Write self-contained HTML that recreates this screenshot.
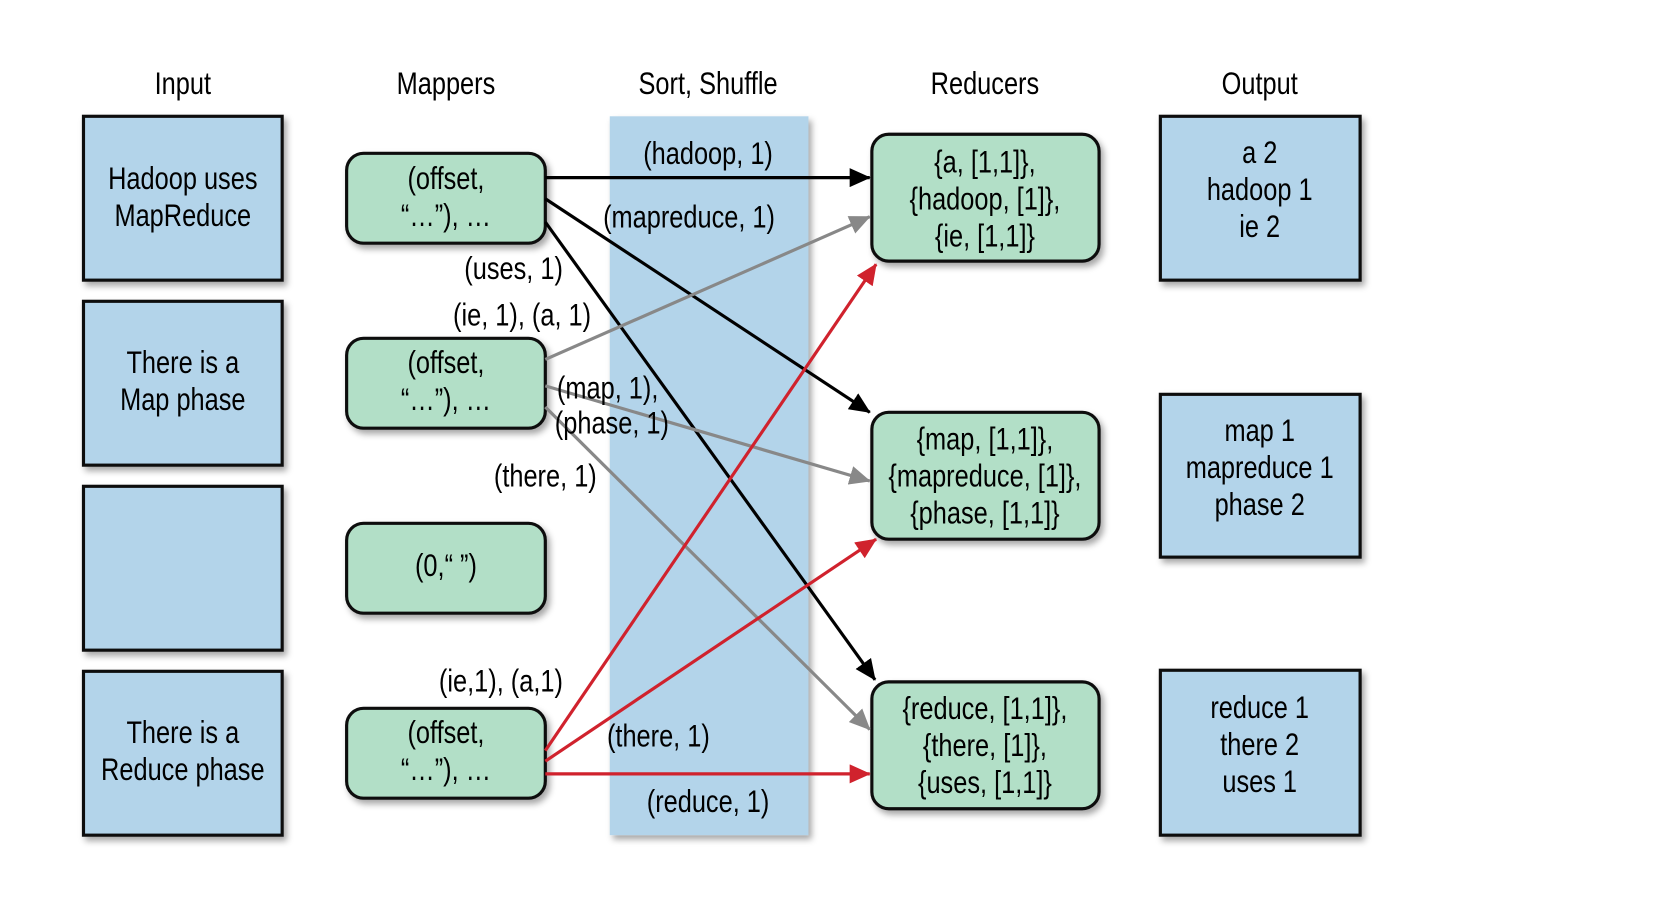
<!DOCTYPE html>
<html><head><meta charset="utf-8"><style>
html,body{margin:0;padding:0;background:#fff;}
svg{display:block;}
text{font-family:"Liberation Sans Narrow","Liberation Sans",sans-serif;font-size:30px;fill:#000;text-anchor:middle;}
</style></head><body>
<svg width="1656" height="906" viewBox="0 0 1567 857" preserveAspectRatio="none">
<defs>
<filter id="sh" x="-10%" y="-10%" width="130%" height="130%"><feDropShadow dx="3" dy="4" stdDeviation="3" flood-color="#000" flood-opacity="0.35"/></filter>
<marker id="ab" markerWidth="20" markerHeight="18" refX="19" refY="9" orient="auto" markerUnits="userSpaceOnUse" viewBox="0 0 20 18"><path d="M0,0 L20,9 L0,18z" fill="#000"/></marker>
<marker id="ag" markerWidth="20" markerHeight="18" refX="19" refY="9" orient="auto" markerUnits="userSpaceOnUse" viewBox="0 0 20 18"><path d="M0,0 L20,9 L0,18z" fill="#888"/></marker>
<marker id="ar" markerWidth="20" markerHeight="18" refX="19" refY="9" orient="auto" markerUnits="userSpaceOnUse" viewBox="0 0 20 18"><path d="M0,0 L20,9 L0,18z" fill="#d0222d"/></marker>
</defs>
<rect x="577" y="110" width="188" height="680" fill="#b3d4ea" filter="url(#sh)"/>
<g>
<text x="173" y="89">Input</text><text x="422" y="89">Mappers</text><text x="670" y="89">Sort, Shuffle</text><text x="932" y="89">Reducers</text><text x="1192" y="89">Output</text>
</g>
<g fill="#b3d4ea" stroke="#111" stroke-width="3" filter="url(#sh)">
<rect x="79" y="110" width="188" height="155"/><rect x="79" y="285" width="188" height="155"/><rect x="79" y="460" width="188" height="155"/><rect x="79" y="635" width="188" height="155"/>
<rect x="1098" y="110" width="189" height="155"/><rect x="1098" y="373" width="189" height="154"/><rect x="1098" y="634" width="189" height="156"/>
</g>
<g fill="#b2dfc7" stroke="#111" stroke-width="3" filter="url(#sh)">
<rect x="328" y="145" width="188" height="85" rx="16"/><rect x="328" y="320" width="188" height="85" rx="16"/><rect x="328" y="495" width="188" height="85" rx="16"/><rect x="328" y="670" width="188" height="85" rx="16"/>
<rect x="825" y="127" width="215" height="120" rx="16"/><rect x="825" y="390" width="215" height="120" rx="16"/><rect x="825" y="645" width="215" height="120" rx="16"/>
</g>
<g fill="none" stroke-width="3">
<line x1="516" y1="168" x2="823" y2="168" stroke="#000" marker-end="url(#ab)"/>
<line x1="516" y1="188" x2="823" y2="390" stroke="#000" marker-end="url(#ab)"/>
<line x1="516" y1="210" x2="828" y2="643" stroke="#000" marker-end="url(#ab)"/>
<line x1="516" y1="340" x2="823" y2="205" stroke="#888" marker-end="url(#ag)"/>
<line x1="516" y1="365" x2="823" y2="455" stroke="#888" marker-end="url(#ag)"/>
<line x1="516" y1="385" x2="823" y2="690" stroke="#888" marker-end="url(#ag)"/>
<line x1="516" y1="710" x2="829" y2="250" stroke="#d0222d" marker-end="url(#ar)"/>
<line x1="516" y1="720" x2="829" y2="510" stroke="#d0222d" marker-end="url(#ar)"/>
<line x1="516" y1="732" x2="823" y2="732" stroke="#d0222d" marker-end="url(#ar)"/>
</g>
<g>
<text x="173" y="179">Hadoop uses</text><text x="173" y="214">MapReduce</text>
<text x="173" y="353">There is a</text><text x="173" y="388">Map phase</text>
<text x="173" y="703">There is a</text><text x="173" y="738">Reduce phase</text>
<text x="422" y="179">(offset,</text><text x="422" y="214">“…”), …</text>
<text x="422" y="353">(offset,</text><text x="422" y="388">“…”), …</text>
<text x="422" y="545">(0,“ ”)</text>
<text x="422" y="703">(offset,</text><text x="422" y="738">“…”), …</text>
<text x="932" y="163">{a, [1,1]},</text><text x="932" y="198">{hadoop, [1]},</text><text x="932" y="233">{ie, [1,1]}</text>
<text x="932" y="425">{map, [1,1]},</text><text x="932" y="460">{mapreduce, [1]},</text><text x="932" y="495">{phase, [1,1]}</text>
<text x="932" y="680">{reduce, [1,1]},</text><text x="932" y="715">{there, [1]},</text><text x="932" y="750">{uses, [1,1]}</text>
<text x="1192" y="154">a 2</text><text x="1192" y="189">hadoop 1</text><text x="1192" y="224">ie 2</text>
<text x="1192" y="417">map 1</text><text x="1192" y="452">mapreduce 1</text><text x="1192" y="487">phase 2</text>
<text x="1192" y="679">reduce 1</text><text x="1192" y="714">there 2</text><text x="1192" y="749">uses 1</text>
</g>
<g>
<text x="670" y="155">(hadoop, 1)</text><text x="652" y="215">(mapreduce, 1)</text>
<text x="486" y="264">(uses, 1)</text><text x="494" y="308">(ie, 1), (a, 1)</text>
<text x="575" y="377">(map, 1),</text><text x="579" y="410">(phase, 1)</text>
<text x="516" y="460">(there, 1)</text>
<text x="474" y="654">(ie,1), (a,1)</text><text x="623" y="706">(there, 1)</text><text x="670" y="768">(reduce, 1)</text>
</g>
</svg>
<script>
document.querySelectorAll('svg text').forEach(function(t){
  var x = parseFloat(t.getAttribute('x'));
  t.setAttribute('transform','translate(' + x + ',0) scale(0.8,1) translate(' + (-x) + ',0)');
});
</script>
</body></html>
